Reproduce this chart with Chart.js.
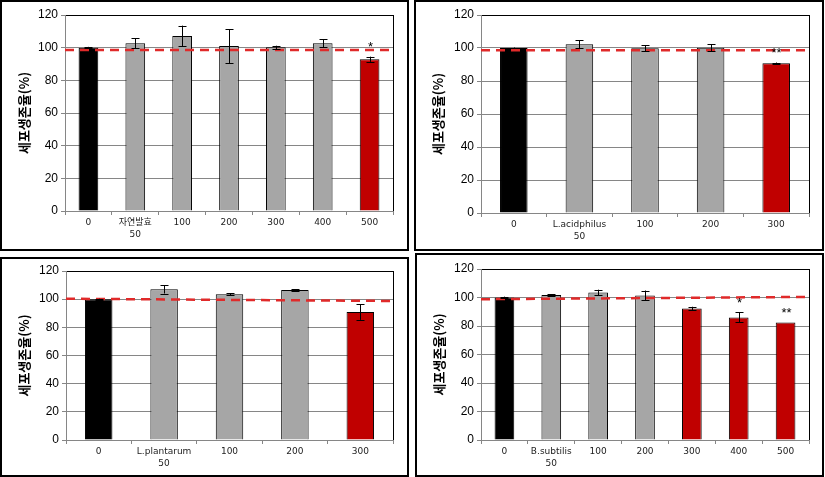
<!DOCTYPE html>
<html>
<head>
<meta charset="utf-8">
<script src="https://cdn.jsdelivr.net/npm/chart.js@4/dist/chart.umd.min.js"></script>
<style>
body { margin: 0; background: #fff; width: 825px; height: 477px; position: relative; overflow: hidden; }
.panel { position: absolute; border: 2px solid #000; box-sizing: border-box; }
canvas { position: absolute; }
</style>
</head>
<body>
<div class="panel" style="left:0;top:0;width:409px;height:251px"></div>
<div class="panel" style="left:414px;top:0;width:410px;height:251px"></div>
<div class="panel" style="left:0;top:257px;width:409px;height:220px"></div>
<div class="panel" style="left:415px;top:253px;width:409px;height:224px"></div>
<canvas id="c1" style="left:0;top:0" width="409" height="251"></canvas>
<canvas id="c2" style="left:414px;top:0" width="410" height="251"></canvas>
<canvas id="c3" style="left:0;top:257px" width="409" height="220"></canvas>
<canvas id="c4" style="left:415px;top:253px" width="409" height="224"></canvas>
<script>
// values (cell viability %, mean and error)
const yTitle = '세포생존율(%)';

const labels1 = ['0', ['자연발효', '50'], '100', '200', '300', '400', '500'];
const values1 = [100, 102.7, 107.2, 101, 100.2, 102.7, 92.9];
const errors1 = [0.5, 3, 6.3, 10.4, 1, 2.5, 1.6];
const groups1 = ['control', 'sample', 'sample', 'sample', 'sample', 'sample', 'drop'];
const marks1 = ['', '', '', '', '', '', '*'];
const ref1 = [98.6, 98.6];

const labels2 = ['0', ['L.acidphilus', '50'], '100', '200', '300'];
const values2 = [100, 102.2, 99.8, 100.2, 90.7];
const errors2 = [0.3, 2.4, 1.8, 2, 0.5];
const groups2 = ['control', 'sample', 'sample', 'sample', 'drop'];
const marks2 = ['', '', '', '', '**'];
const ref2 = [98.7, 98.7];

const labels3 = ['0', ['L.plantarum', '50'], '100', '200', '300'];
const values3 = [100, 107, 103.5, 106.5, 90.9];
const errors3 = [0.3, 3, 0.6, 0.4, 5.6];
const groups3 = ['control', 'sample', 'sample', 'sample', 'drop'];
const marks3 = ['', '', '', '', ''];
const ref3 = [100.3, 98.7];

const labels4 = ['0', ['B.subtilis', '50'], '100', '200', '300', '400', '500'];
const values4 = [100, 101.8, 103.5, 101.4, 92.3, 86, 82.5];
const errors4 = [0.6, 0.4, 2, 3.5, 1.2, 3.5, 0];
const groups4 = ['control', 'sample', 'sample', 'sample', 'drop', 'drop', 'drop'];
const marks4 = ['', '', '', '', '', '*', '**'];
const ref4 = [98.8, 100.4];

const groupColor = { control: '#000000', sample: '#a6a6a6', drop: '#c00000' };
const gridGray = '#868686';

const errorBars = {
  id: 'errorBars',
  afterDatasetsDraw(chart, args, opts) {
    const meta = chart.getDatasetMeta(0);
    const y = chart.scales.y;
    const c = chart.ctx;
    c.save();
    c.strokeStyle = '#000';
    c.lineWidth = 1;
    c.fillStyle = '#000';
    c.font = '13px "Liberation Sans", Arial, sans-serif';
    c.textAlign = 'center';
    c.textBaseline = 'middle';
    meta.data.forEach((bar, i) => {
      const v = chart.data.datasets[0].data[i];
      const e = opts.errors[i];
      const x = Math.round(bar.x) + 0.5;
      const top = y.getPixelForValue(v + e);
      const bot = y.getPixelForValue(v - e);
      if (e > 0) {
        c.beginPath();
        c.moveTo(x, top); c.lineTo(x, bot);
        c.moveTo(x - 4, Math.round(top) + 0.5); c.lineTo(x + 4, Math.round(top) + 0.5);
        c.moveTo(x - 4, Math.round(bot) + 0.5); c.lineTo(x + 4, Math.round(bot) + 0.5);
        c.stroke();
      }
      if (opts.marks[i]) c.fillText(opts.marks[i], x, top - 9);
    });
    c.restore();
  }
};

const plotFrame = {
  id: 'plotFrame',
  beforeDatasetsDraw(chart) {
    const a = chart.chartArea;
    const c = chart.ctx;
    c.save();
    c.strokeStyle = '#000';
    c.lineWidth = 1;
    c.beginPath();
    c.moveTo(Math.round(a.right) + 0.5, a.top);
    c.lineTo(Math.round(a.right) + 0.5, a.bottom);
    c.stroke();
    c.restore();
  }
};

function makeChart(id, labels, values, errors, groups, marks, ref, box) {
  return new Chart(document.getElementById(id), {
    type: 'bar',
    data: {
      labels: labels,
      datasets: [{
        type: 'bar',
        data: values,
        backgroundColor: groups.map(g => groupColor[g]),
        borderColor: '#000',
        borderWidth: 1,
        grouped: false,
        barPercentage: 0.42,
        categoryPercentage: 1,
        order: 1
      }, {
        type: 'line',
        xAxisID: 'x2',
        data: [{ x: 0, y: ref[0] }, { x: 1, y: ref[1] }],
        borderColor: '#e02a2a',
        borderWidth: 2.5,
        borderDash: [9, 6],
        pointRadius: 0,
        order: 0
      }]
    },
    options: {
      responsive: false,
      animation: false,
      layout: { padding: { top: box.top, right: box.right, bottom: 0, left: 0 } },
      plugins: {
        legend: { display: false },
        tooltip: { enabled: false },
        errorBars: { errors: errors, marks: marks }
      },
      scales: {
        x: {
          type: 'category',
          offset: true,
          grid: { display: true, drawOnChartArea: false, tickLength: 4, color: gridGray, offset: true },
          border: { color: gridGray },
          ticks: {
            color: '#222',
            padding: 2,
            maxRotation: 0,
            autoSkip: false,
            font: { family: '"DejaVu Sans", "Noto Sans CJK KR", sans-serif', size: 9, lineHeight: 1.3 }
          },
          afterFit: s => { s.height = box.xHeight; }
        },
        x2: { type: 'linear', display: false, offset: false, min: 0, max: 1 },
        y: {
          min: 0,
          max: 120,
          ticks: {
            stepSize: 20,
            color: '#000',
            padding: 3,
            font: { family: '"Liberation Sans", Arial, sans-serif', size: 12 }
          },
          grid: {
            color: ctx => (ctx.tick && ctx.tick.value === 120 ? '#000' : gridGray),
            tickColor: gridGray,
            tickLength: 4
          },
          border: { color: gridGray },
          title: {
            display: true,
            text: yTitle,
            color: '#000',
            padding: { top: 16, bottom: 0 },
            font: { family: '"Noto Sans CJK KR", sans-serif', size: 13, weight: 'bold' }
          },
          afterFit: s => { s.width = box.yWidth; }
        }
      }
    },
    plugins: [plotFrame, errorBars]
  });
}

makeChart('c1', labels1, values1, errors1, groups1, marks1, ref1, { top: 15, right: 16, yWidth: 65, xHeight: 40 });
makeChart('c2', labels2, values2, errors2, groups2, marks2, ref2, { top: 15, right: 15, yWidth: 67, xHeight: 38 });
makeChart('c3', labels3, values3, errors3, groups3, marks3, ref3, { top: 14, right: 16, yWidth: 66, xHeight: 37 });
makeChart('c4', labels4, values4, errors4, groups4, marks4, ref4, { top: 16, right: 15, yWidth: 66, xHeight: 37 });
</script>
</body>
</html>
